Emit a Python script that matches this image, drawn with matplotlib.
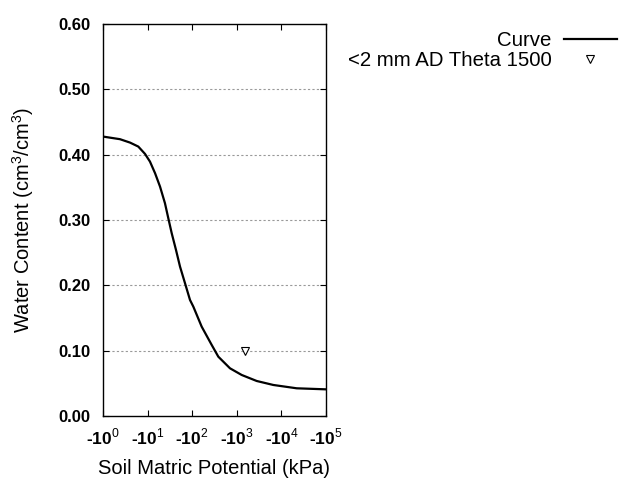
import math
import matplotlib
matplotlib.use("Agg")
import matplotlib.pyplot as plt
from matplotlib.lines import Line2D
from matplotlib.ticker import FixedLocator, FuncFormatter

plt.rcParams['font.family'] = ['Liberation Sans', 'DejaVu Sans']
plt.rcParams['mathtext.fontset'] = 'custom'
plt.rcParams['mathtext.rm'] = 'Liberation Sans'
plt.rcParams['mathtext.bf'] = 'Liberation Sans:bold'

# Curve (suction in kPa, water content)
curve_x = [1.0, 2.40, 4.03, 6.18, 8.74, 11.3, 14.7, 19.0, 24.5, 29.1, 34.7, 43.3, 53.3,
           69.0, 89.3, 106, 163, 274, 385, 704, 1288, 2793, 6580, 22030, 100000]
curve_y = [0.4277, 0.4237, 0.4185, 0.4124, 0.4012, 0.3894, 0.3716, 0.3511, 0.3257, 0.3028,
           0.2798, 0.2542, 0.2287, 0.2032, 0.1776, 0.1674, 0.1368, 0.1087, 0.0908, 0.0730,
           0.0628, 0.0536, 0.0475, 0.0424, 0.0408]

# Measured point
pt_x = [1500]
pt_y = [0.100]

xticks = [1, 10, 100, 1000, 10000, 100000]
yticks = [0.0, 0.1, 0.2, 0.3, 0.4, 0.5, 0.6]

fig = plt.figure(figsize=(6.4, 4.8), dpi=100)
ax = fig.add_axes([103/640, 64/480, 223/640, 392/480])

ax.plot(curve_x, curve_y, color='black', lw=1.6, solid_joinstyle='round')
ax.plot(pt_x, pt_y, linestyle='none', marker='v', markersize=6,
        markerfacecolor='white', markeredgecolor='black', markeredgewidth=0.8)

ax.set_xscale('log')
ax.set_xlim(1, 1e5)
ax.set_ylim(0, 0.6)
ax.xaxis.set_major_locator(FixedLocator(xticks))
ax.xaxis.set_minor_locator(FixedLocator([]))
ax.xaxis.set_major_formatter(FuncFormatter(lambda v, p: r'-10$^{%d}$' % round(math.log10(v))))
ax.yaxis.set_major_locator(FixedLocator(yticks))
ax.yaxis.set_major_formatter(FuncFormatter(lambda v, p: '%.2f' % v))

for y in yticks[1:-1]:
    ax.axhline(y, color='#999999', lw=0.8, ls=(0, (2, 2)), zorder=0)

ax.tick_params(axis='x', direction='in', top=True, length=4, pad=8, labelsize=12.5)
ax.tick_params(axis='y', direction='in', left=True, right=True, length=4, pad=9, labelsize=12)
for lab in ax.get_yticklabels() + ax.get_xticklabels():
    lab.set_fontweight('bold')

for s in ax.spines.values():
    s.set_linewidth(1.0)

ax.set_xlabel('Soil Matric Potential (kPa)', fontsize=14.5, labelpad=8)
ax.set_ylabel(r'Water Content (cm$^3$/cm$^3$)', fontsize=14.5, labelpad=16)

handles = [Line2D([], [], color='black', lw=1.6),
           Line2D([], [], linestyle='none', marker='v', markersize=6,
                  markerfacecolor='white', markeredgecolor='black', markeredgewidth=0.8)]
leg = fig.legend(handles, ['Curve', '<2 mm AD Theta 1500'], loc='upper right',
                 bbox_to_anchor=(625/640, 1 - 23/480), frameon=False, fontsize=14.7,
                 markerfirst=False, handlelength=2.6, handletextpad=0.6,
                 labelspacing=0.05, borderaxespad=0)
for t in leg.get_texts():
    t.set_ha('right')

fig.savefig('out.png', dpi=100)
